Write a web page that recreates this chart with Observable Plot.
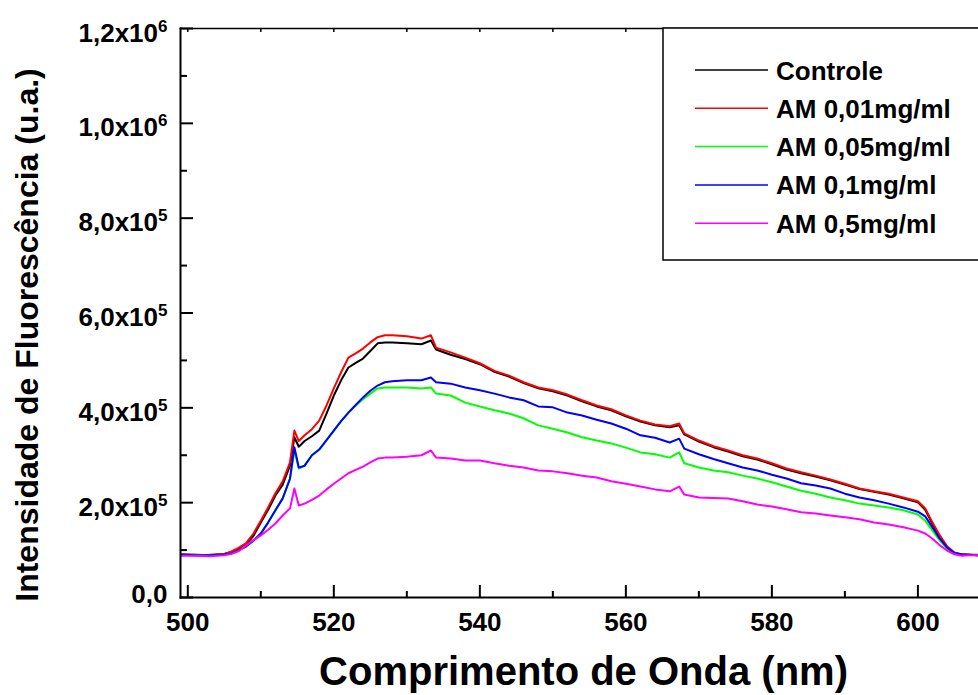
<!DOCTYPE html>
<html>
<head>
<meta charset="utf-8">
<script src="https://cdn.jsdelivr.net/npm/d3@7"></script>
<script src="https://cdn.jsdelivr.net/npm/@observablehq/plot@0.6"></script>
<style>
  html, body { margin: 0; padding: 0; background: #fff; }
  svg { display: block; }
</style>
</head>
<body>
<div id="chart"></div>
<script>
// Wavelength (nm) sample points
const wavelengths = [499, 501, 503, 505, 506, 507, 508, 509, 510, 511,
  512, 513, 514, 514.6, 515.2, 516, 517, 518, 519, 520,
  521, 522, 523, 524, 525, 526, 527, 528, 530, 532,
  533.3, 534, 536, 538, 540, 542, 544, 546, 548, 550,
  552, 554, 556, 558, 560, 562, 564, 566, 567.3, 568,
  570, 572, 574, 576, 578, 580, 582, 584, 586, 588,
  590, 592, 594, 596, 598, 600, 601, 602, 603, 604,
  605, 606, 607, 608.3];

// Intensities in units of 10^5 (u.a.)
const controle = [0.91, 0.90, 0.89, 0.92, 0.96, 1.03, 1.12, 1.30, 1.58, 1.85,
  2.15, 2.38, 2.78, 3.38, 3.18, 3.30, 3.40, 3.52, 3.88, 4.26,
  4.58, 4.85, 4.95, 5.04, 5.20, 5.36, 5.38, 5.38, 5.36, 5.34,
  5.42, 5.23, 5.12, 5.03, 4.92, 4.76, 4.66, 4.52, 4.41, 4.35,
  4.26, 4.14, 4.03, 3.95, 3.82, 3.71, 3.63, 3.59, 3.63, 3.44,
  3.29, 3.17, 3.08, 2.98, 2.91, 2.81, 2.70, 2.62, 2.55, 2.47,
  2.38, 2.29, 2.23, 2.17, 2.09, 2.01, 1.85, 1.55, 1.28, 1.06,
  0.94, 0.90, 0.90, 0.89];
const am001 = [0.91, 0.89, 0.90, 0.92, 0.97, 1.05, 1.15, 1.35, 1.62, 1.90,
  2.20, 2.45, 2.85, 3.52, 3.30, 3.42, 3.55, 3.73, 4.05, 4.41,
  4.75, 5.06, 5.15, 5.25, 5.38, 5.49, 5.53, 5.53, 5.51, 5.46,
  5.53, 5.27, 5.17, 5.06, 4.94, 4.78, 4.68, 4.54, 4.43, 4.37,
  4.28, 4.16, 4.05, 3.97, 3.84, 3.73, 3.65, 3.61, 3.67, 3.46,
  3.31, 3.19, 3.10, 3.00, 2.93, 2.83, 2.72, 2.64, 2.57, 2.49,
  2.40, 2.30, 2.24, 2.19, 2.11, 2.03, 1.88, 1.58, 1.31, 1.08,
  0.95, 0.91, 0.90, 0.90];
const am005 = [0.90, 0.90, 0.89, 0.91, 0.93, 1.00, 1.08, 1.20, 1.35, 1.58,
  1.84, 2.09, 2.50, 3.10, 2.72, 2.78, 3.00, 3.12, 3.32, 3.52,
  3.72, 3.90, 4.05, 4.18, 4.30, 4.41, 4.43, 4.43, 4.43, 4.41,
  4.43, 4.30, 4.26, 4.11, 4.03, 3.95, 3.88, 3.78, 3.63, 3.56,
  3.48, 3.38, 3.31, 3.25, 3.16, 3.06, 3.02, 2.95, 3.06, 2.83,
  2.74, 2.68, 2.64, 2.57, 2.51, 2.43, 2.34, 2.25, 2.19, 2.11,
  2.05, 1.98, 1.94, 1.90, 1.84, 1.75, 1.62, 1.41, 1.20, 1.03,
  0.94, 0.90, 0.90, 0.89];
const am01 = [0.90, 0.89, 0.89, 0.91, 0.93, 1.00, 1.08, 1.20, 1.35, 1.58,
  1.84, 2.09, 2.51, 3.17, 2.74, 2.78, 3.00, 3.12, 3.32, 3.52,
  3.72, 3.90, 4.06, 4.22, 4.36, 4.47, 4.54, 4.56, 4.58, 4.58,
  4.64, 4.54, 4.51, 4.43, 4.37, 4.30, 4.22, 4.16, 4.03, 4.01,
  3.90, 3.84, 3.75, 3.67, 3.56, 3.42, 3.37, 3.27, 3.35, 3.14,
  3.02, 2.92, 2.83, 2.74, 2.68, 2.59, 2.51, 2.41, 2.36, 2.30,
  2.19, 2.11, 2.05, 1.98, 1.90, 1.81, 1.71, 1.48, 1.24, 1.05,
  0.94, 0.91, 0.90, 0.89];
const am05 = [0.88, 0.88, 0.87, 0.89, 0.92, 0.98, 1.10, 1.21, 1.31, 1.43,
  1.56, 1.73, 1.88, 2.30, 1.94, 1.98, 2.06, 2.15, 2.28, 2.40,
  2.51, 2.62, 2.69, 2.76, 2.85, 2.93, 2.95, 2.95, 2.97, 3.00,
  3.10, 2.95, 2.93, 2.89, 2.89, 2.83, 2.78, 2.74, 2.68, 2.66,
  2.62, 2.57, 2.53, 2.45, 2.40, 2.34, 2.28, 2.24, 2.34, 2.17,
  2.11, 2.10, 2.09, 2.03, 1.96, 1.92, 1.86, 1.80, 1.77, 1.73,
  1.69, 1.65, 1.58, 1.54, 1.48, 1.41, 1.35, 1.24, 1.10, 0.99,
  0.91, 0.88, 0.89, 0.89];

const seriesNames = ["Controle", "AM 0,01mg/ml", "AM 0,05mg/ml", "AM 0,1mg/ml", "AM 0,5mg/ml"];
const seriesColors = ["#000000", "#ff0000", "#00ff00", "#0000ff", "#ff00ff"];
const seriesValues = [controle, am001, am005, am01, am05];

const yMajorTicks = [0, 2e5, 4e5, 6e5, 8e5, 1e6, 1.2e6];
const yTickLabels = ["0,0", "2,0x10|5", "4,0x10|5", "6,0x10|5", "8,0x10|5", "1,0x10|6", "1,2x10|6"];
const yMinorTicks = [1e5, 3e5, 5e5, 7e5, 9e5, 1.1e6];
const xMajorTicks = [500, 520, 540, 560, 580, 600];
const xMinorTicks = [510, 530, 550, 570, 590];
const xTopTicks = [500, 510, 520, 530, 540, 550, 560, 570, 580, 590, 600];
const xLabel = "Comprimento de Onda (nm)";
const yLabel = "Intensidade de Fluorescência (u.a.)";
const UNIT = 1e5;

const table = [];
seriesNames.forEach((s, k) => {
  wavelengths.forEach((w, i) => table.push({ s, w, v: seriesValues[k][i] * UNIT }));
});

const FONT = "'Liberation Sans', Arial, Helvetica, sans-serif";

const plot = Plot.plot({
  width: 978,
  height: 695,
  marginLeft: 180,
  marginRight: 0,
  marginTop: 28,
  marginBottom: 98,
  style: { fontFamily: FONT, background: "#fff", overflow: "visible" },
  x: { domain: [499, 608.3], axis: null },
  y: { domain: [0, 1.2e6], axis: null },
  color: { domain: seriesNames, range: seriesColors },
  marks: [
    Plot.line(table, { x: "w", y: "v", z: "s", stroke: "s", strokeWidth: 2, clip: true }),
    // frame sides
    Plot.frame({ anchor: "left", strokeWidth: 2 }),
    Plot.frame({ anchor: "bottom", strokeWidth: 2 }),
    Plot.frame({ anchor: "top", strokeWidth: 1.5 }),
    // y ticks (inward)
    Plot.axisY(yMajorTicks, { anchor: "left", tickSize: -13, strokeWidth: 2, fill: "none", label: null }),
    Plot.axisY(yMinorTicks, { anchor: "left", tickSize: -7, strokeWidth: 2, fill: "none", label: null }),
    Plot.axisY(yMajorTicks, {
      anchor: "left", tickSize: 0, tickPadding: 13, label: null,
      tickFormat: d => yTickLabels[yMajorTicks.indexOf(d)],
      fontSize: 26, fontWeight: "bold", fill: "#000"
    }),
    // x ticks (inward)
    Plot.axisX(xMajorTicks, { anchor: "bottom", tickSize: -12, strokeWidth: 2, fill: "none", label: null }),
    Plot.axisX(xMinorTicks, { anchor: "bottom", tickSize: -6, strokeWidth: 2, fill: "none", label: null }),
    Plot.axisX(xTopTicks, { anchor: "top", tickSize: -3, strokeWidth: 1.5, fill: "none", label: null }),
    Plot.axisX(xMajorTicks, {
      anchor: "bottom", tickSize: 0, tickPadding: 15, label: null,
      fontSize: 26, fontWeight: "bold", fill: "#000"
    }),
    // axis titles
    Plot.text([yLabel], {
      text: d => d, frameAnchor: "left", rotate: -90, dx: -153, dy: 22,
      textAnchor: "middle", lineAnchor: "middle", fontSize: 32, fontWeight: "bold", fill: "#000"
    }),
    Plot.text([xLabel], {
      text: d => d, frameAnchor: "bottom", dx: 4, dy: 75,
      textAnchor: "middle", lineAnchor: "middle", fontSize: 40, fontWeight: "bold", fill: "#000"
    })
  ]
});

// superscripts on y tick labels
d3.select(plot).selectAll('g[aria-label="y-axis tick label"] text').each(function () {
  const t = this.textContent;
  const sel = d3.select(this);
  if (t.includes("|")) {
    const [base, exp] = t.split("|");
    sel.text(base).attr("y", 13).attr("dy", null);
    sel.append("tspan").attr("dy", -10).attr("font-size", 17).text(exp);
  } else {
    sel.attr("y", 5).attr("dy", null);
  }
});

// legend
const svg = d3.select(plot);
const lg = svg.append("g").attr("font-family", FONT).attr("font-weight", "bold")
  .attr("font-size", 26).attr("text-anchor", "start");
lg.append("rect").attr("x", 663).attr("y", 28).attr("width", 400).attr("height", 232)
  .attr("fill", "#fff").attr("stroke", "#000").attr("stroke-width", 1.5);
seriesNames.forEach((s, i) => {
  const y = 70 + i * 38.3;
  lg.append("line").attr("x1", 695).attr("x2", 768).attr("y1", y).attr("y2", y)
    .attr("stroke", seriesColors[i]).attr("stroke-width", 1.5);
  lg.append("text").attr("x", 776).attr("y", y + 9.5).attr("text-anchor", "start")
    .attr("fill", "#000").text(s);
});

document.getElementById("chart").appendChild(plot);
</script>
</body>
</html>
